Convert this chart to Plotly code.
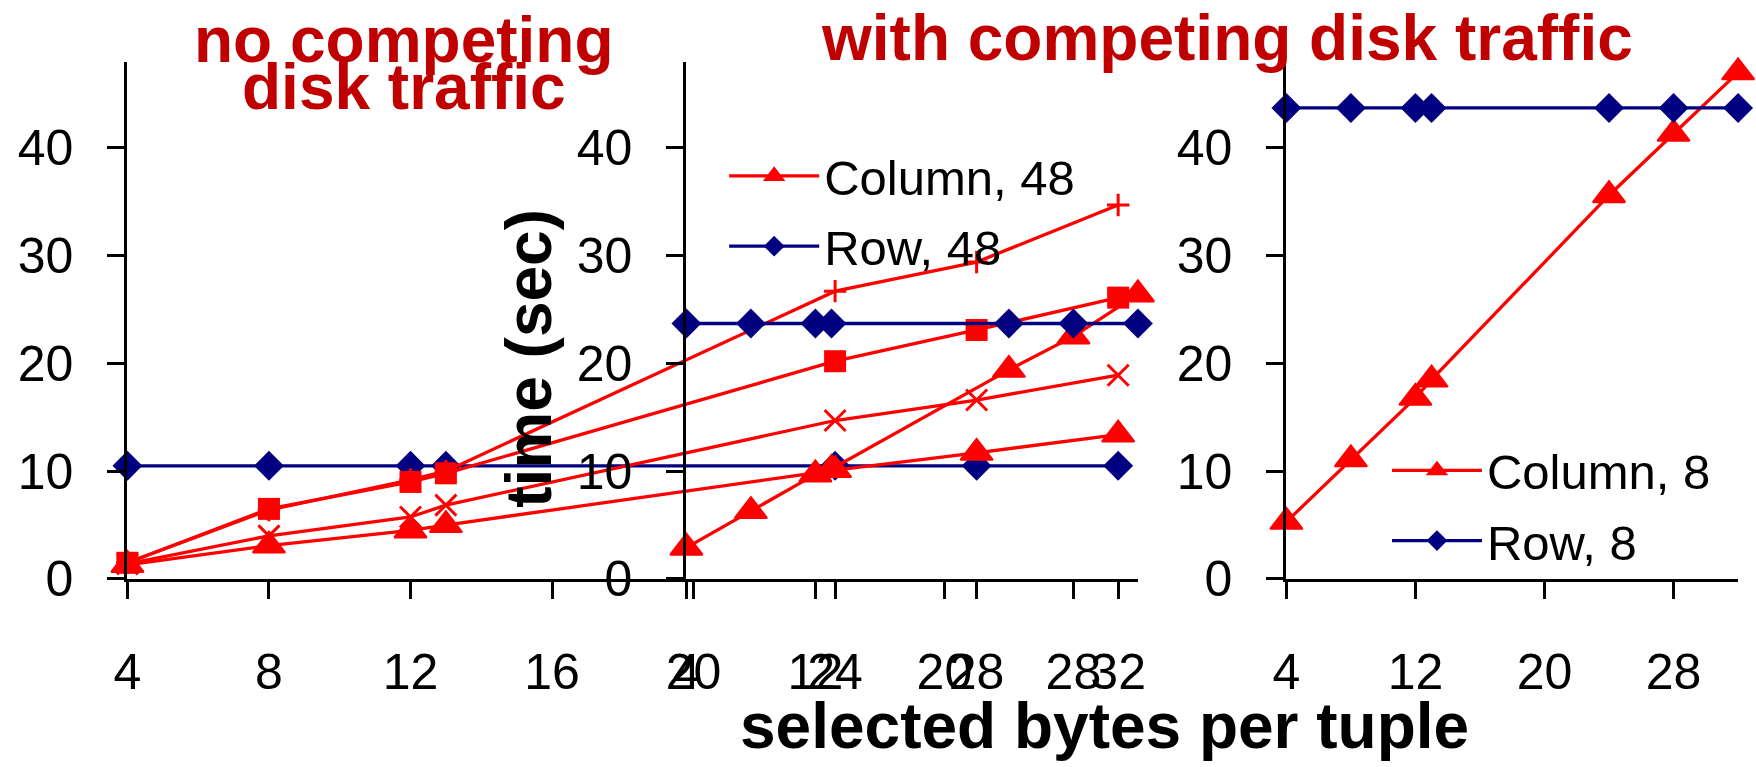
import plotly.graph_objects as go

# ---------------- data ----------------
bytes_per_tuple = [4, 8, 12, 13, 24, 28, 32]

# no competing disk traffic (left chart)
nc_plus = [1.5, 6.4, 9.2, 10.0, 26.7, 29.4, 34.7]
nc_square = [1.5, 6.5, 9.0, 9.8, 20.2, 23.1, 26.1]
nc_cross = [1.4, 4.0, 5.75, 6.85, 14.7, 16.6, 18.9]
nc_triangle = [1.3, 3.1, 4.5, 5.0, 10.1, 11.7, 13.4]
nc_row = [10.5, 10.5, 10.5, 10.5, 10.5, 10.5, 10.5]

# with competing disk traffic, 48
col_48 = [2.9, 6.3, 9.7, 10.2, 19.4, 22.5, 26.4]
row_48 = [23.7, 23.7, 23.7, 23.7, 23.7, 23.7, 23.7]

# with competing disk traffic, 8
col_8 = [5.3, 11.1, 16.8, 18.5, 35.6, 41.3, 47.0]
row_8 = [43.7, 43.7, 43.7, 43.7, 43.7, 43.7, 43.7]

y_ticks = [0, 10, 20, 30, 40]
x_ticks_a = [4, 8, 12, 16, 20, 24, 28, 32]
x_ticks_bc = [4, 12, 20, 28]

# ---------------- styling ----------------
W, H = 1756, 767
RED = "#FF0000"
NAVY = "#000080"
TITLE_RED = "#C00000"
FONT = "Liberation Sans, Arial, sans-serif"


def px(x):
    return x / W


def py(y):
    return 1 - y / H


Y_DOM = [py(601.7), py(64)]

fig = go.Figure()


def line_trace(x, y, color, symbol, size, xa, ya, name, legend="legend", show=False, mline=0):
    marker = dict(symbol=symbol, size=size, color=color)
    if symbol.endswith("thin"):
        marker["line"] = dict(width=3, color=color)
    else:
        marker["line"] = dict(width=mline, color=color)
    fig.add_trace(go.Scatter(
        x=x, y=y, mode="lines+markers", name=name,
        line=dict(color=color, width=3.3), marker=marker,
        xaxis=xa, yaxis=ya, cliponaxis=False, showlegend=show,
        legend=legend, legendgroup=name,
    ))


# left chart
line_trace(bytes_per_tuple, nc_row, NAVY, "diamond", 23, "x", "y", "Row")
line_trace(bytes_per_tuple, nc_plus, RED, "cross-thin", 16, "x", "y", "plus")
line_trace(bytes_per_tuple, nc_square, RED, "square", 22, "x", "y", "square")
line_trace(bytes_per_tuple, nc_cross, RED, "x-thin", 21, "x", "y", "cross")
line_trace(bytes_per_tuple, nc_triangle, RED, "triangle-up", 28, "x", "y", "tri", mline=2)

# middle chart (48)
line_trace(bytes_per_tuple, col_48, RED, "triangle-up", 28, "x2", "y2", "Column, 48", "legend", True, mline=2)
line_trace(bytes_per_tuple, row_48, NAVY, "diamond", 23, "x2", "y2", "Row, 48", "legend", True)

# right chart (8)
line_trace(bytes_per_tuple, col_8, RED, "triangle-up", 28, "x3", "y3", "Column, 8", "legend2", True, mline=2)
line_trace(bytes_per_tuple, row_8, NAVY, "diamond", 23, "x3", "y3", "Row, 8", "legend2", True)

tickfont = dict(family=FONT, size=50, color="black")
axis_common = dict(
    showline=True, linecolor="black", linewidth=3, ticks="outside", ticklen=17,
    tickwidth=3, tickcolor="black", showgrid=False, zeroline=False,
    tickfont=tickfont, fixedrange=True,
)
legend_common = dict(
    xanchor="left", yanchor="top", bgcolor="rgba(0,0,0,0)",
    font=dict(family=FONT, size=49, color="black"),
    itemwidth=90, tracegroupgap=3.5,
)

fig.update_layout(
    width=W, height=H, autosize=False,
    margin=dict(l=0, r=0, t=0, b=0),
    paper_bgcolor="white", plot_bgcolor="rgba(0,0,0,0)",
    font=dict(family=FONT, color="black"),
    xaxis=dict(domain=[px(115), px(1137.4)], range=[4, 32.5], anchor="y",
               tickvals=x_ticks_a, ticklabelstandoff=30, **axis_common),
    yaxis=dict(domain=Y_DOM, range=[0, 48], anchor="x", tickvals=y_ticks,
               ticklabelstandoff=24, **axis_common),
    xaxis2=dict(domain=[px(681.7), px(1139.5)], range=[4, 32], anchor="y2",
                tickvals=x_ticks_bc, ticklabelstandoff=30, **axis_common),
    yaxis2=dict(domain=Y_DOM, range=[0, 48], anchor="x2", tickvals=y_ticks,
                ticklabelstandoff=24, **axis_common),
    xaxis3=dict(domain=[px(1290), px(1748)], range=[4, 32], anchor="y3",
                tickvals=x_ticks_bc, ticklabelstandoff=30, **axis_common),
    yaxis3=dict(domain=Y_DOM, range=[0, 48], anchor="x3", tickvals=y_ticks,
                ticklabelstandoff=24, **axis_common),
    legend=dict(x=px(720), y=py(143), **legend_common),
    legend2=dict(x=px(1392), y=py(449), **legend_common),
    showlegend=True,
)

title_font = dict(family=FONT, size=64, color=TITLE_RED, weight="bold")
axis_title_font = dict(family=FONT, size=64, color="black", weight="bold")

fig.add_annotation(text="no competing", x=px(395), y=py(42), xref="paper", yref="paper",
                   showarrow=False, font=title_font, xanchor="center", yanchor="middle")
fig.add_annotation(text="disk traffic", x=px(395), y=py(90), xref="paper", yref="paper",
                   showarrow=False, font=title_font, xanchor="center", yanchor="middle")
fig.add_annotation(text="with competing disk traffic", x=px(1230), y=py(40), xref="paper",
                   yref="paper", showarrow=False, font=title_font, xanchor="center",
                   yanchor="middle")
fig.add_annotation(text="time (sec)", x=px(522), y=py(372), xref="paper", yref="paper",
                   showarrow=False, font=axis_title_font, textangle=-90,
                   xanchor="center", yanchor="middle")
fig.add_annotation(text="selected bytes per tuple", x=px(1106), y=py(755), xref="paper",
                   yref="paper", showarrow=False, font=axis_title_font,
                   xanchor="center", yanchor="middle")

fig.write_html("out.html", config={"displayModeBar": False},
               post_script="document.body.style.margin='0px';")
